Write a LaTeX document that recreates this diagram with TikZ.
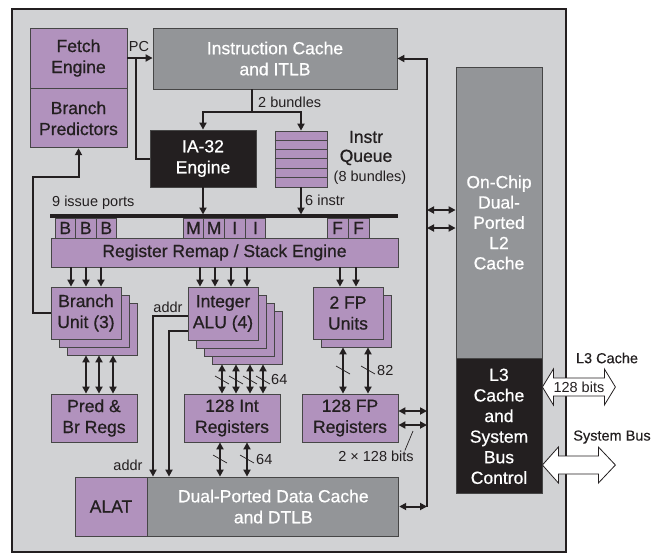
\documentclass[tikz,border=0pt]{standalone}
\usepackage{fontspec}
\setmainfont{Liberation Sans}
\newfontfamily\boxfont{Liberation Sans}[FakeBold=0.7]
\newfontfamily\busfont{Liberation Sans}[FakeBold=0.4]
\definecolor{chipgray}{RGB}{209,210,212}
\definecolor{unitpurple}{RGB}{177,146,189}
\definecolor{cachegray}{RGB}{147,149,152}
\definecolor{ctrlblack}{RGB}{35,31,32}
\definecolor{edgegray}{RGB}{70,70,70}
\usetikzlibrary{arrows.meta,positioning,calc}

\begin{document}
\begin{tikzpicture}[x=1pt,y=-1pt,
  fubox/.style={draw=edgegray,line width=0.8pt,fill=unitpurple,text=ctrlblack,align=center,
    inner sep=0pt,font=\boxfont\fontsize{17.5}{21}\selectfont},
  cachebox/.style={fubox,fill=cachegray,text=white},
  blackbox/.style={fubox,fill=ctrlblack,text=white},
  portbox/.style={fubox,minimum width=20.5pt,minimum height=20pt},
  lbl/.style={font=\fontsize{14.5}{17}\selectfont,text=ctrlblack,inner sep=0pt},
  buslbl/.style={lbl,font=\busfont\fontsize{14.5}{17}\selectfont},
  wire/.style={line width=2pt,draw=ctrlblack},
  arr/.style={wire,-{Triangle[length=7pt,width=7pt]}},
  darr/.style={wire,{Triangle[length=7pt,width=7pt]}-{Triangle[length=7pt,width=7pt]}},
  bitmark/.style={line width=0.7pt,draw=ctrlblack},
  fatarr/.style={draw=ctrlblack,line width=0.8pt,fill=white,line join=miter}
]
  \useasboundingbox (0,0) rectangle (660,558);
  % Chip outline
  \node[draw=ctrlblack,line width=2pt,fill=chipgray,minimum width=554pt,minimum height=543pt,inner sep=0pt] (chip) at (289,280.5) {};

  % Front end
  \node[fubox,minimum width=97pt,minimum height=60pt] (fetch) at (78.5,58) {Fetch\\Engine};
  \node[fubox,minimum width=97pt,minimum height=59pt,below=0pt of fetch] (bpred) {Branch\\Predictors};
  \node[cachebox,minimum width=244pt,minimum height=61pt] (icache) at (275,58.5) {Instruction Cache\\and ITLB};
  \node[blackbox,minimum width=106pt,minimum height=57pt] (ia32) at (203,158.5) {IA-32\\Engine};
  \node[fubox,minimum width=52pt,minimum height=56pt] (queue) at (301,159) {};
  \foreach \i in {1,...,5}
    \draw[edgegray,line width=0.8pt] ($(queue.north west)+(0,9.33*\i)$) -- ($(queue.north east)+(0,9.33*\i)$);
  \node[fubox,draw=none,fill=none,font=\boxfont\fontsize{17.5}{19}\selectfont] (qname) at (366,148) {Instr\\Queue};
  \node[lbl] (qsize) at (370,178) {(8 bundles)};

  \draw[arr] (fetch.east) -- (fetch.east -| icache.west);
  \draw[wire] (ia32.west) -| (136,0 |- fetch.east);
  \node[lbl] (pc) at (139,47) {PC};

  \coordinate (split) at (252,112);
  \draw[arr] (icache.south -| split) -- (split) -| (ia32.north);
  \draw[arr] (split) -| (queue.north);
  \node[lbl,anchor=west] (bundles) at (258,102) {2 bundles};

  % Issue ports
  \coordinate (busL) at (50,216);
  \coordinate (busR) at (398,216);
  \draw[ctrlblack,line width=4pt] (busL) -- (busR);
  \node[lbl,anchor=west] (ports) at (52,203) {9 issue ports};
  \draw[arr,shorten >=1.5pt] (ia32.south) -- (ia32.south |- busL);
  \draw[arr,shorten >=1.5pt] (queue.south) -- (queue.south |- busL);
  \node[lbl,anchor=west] (instr) at (305,200) {6 instr};

  \foreach \p [count=\i] in {B,B,B}
    \node[portbox] (pb\i) at (65.25+20.5*\i-20.5,228) {\p};
  \foreach \p [count=\i] in {M,M,I,I}
    \node[portbox,minimum width=20.7pt] (pm\i) at (193.4+20.7*\i-20.7,228) {\p};
  \foreach \p [count=\i] in {F,F}
    \node[portbox,minimum width=21pt] (pf\i) at (337.5+21*\i-21,228) {\p};
  \node[fubox,minimum width=347pt,minimum height=29pt] (remap) at (224.5,252.5) {Register Remap / Stack Engine};

  % Execution units
  \foreach \k in {2,1}
    \node[fubox,minimum width=70pt,minimum height=52pt] (brUb\k) at (86+8*\k,313+8*\k) {};
  \node[fubox,minimum width=70pt,minimum height=52pt] (brU) at (86,313) {Branch\\Unit (3)};
  \foreach \k in {3,2,1}
    \node[fubox,minimum width=70pt,minimum height=53pt] (aluB\k) at (223+8*\k,313.5+8*\k) {};
  \node[fubox,minimum width=70pt,minimum height=53pt] (alu) at (223,313.5) {Integer\\ALU (4)};
  \node[fubox,minimum width=70pt,minimum height=52pt] (fpUb1) at (356,321) {};
  \node[fubox,minimum width=70pt,minimum height=52pt] (fpU) at (348,313) {2 FP\\Units};

  \foreach \x in {71,86,101}
    \draw[arr] (\x,0 |- remap.south) -- (\x,0 |- brU.north);
  \foreach \x in {200,215,231,247}
    \draw[arr] (\x,0 |- remap.south) -- (\x,0 |- alu.north);
  \foreach \x in {340,356}
    \draw[arr] (\x,0 |- remap.south) -- (\x,0 |- fpU.north);
  \draw[arr] (brU.west) -| (33,177) -| (bpred.south);

  % Register files
  \node[fubox,minimum width=86pt,minimum height=48pt] (predR) at (94,418) {Pred \&\\Br Regs};
  \node[fubox,minimum width=96pt,minimum height=48pt] (intR) at (232,418) {128 Int\\Registers};
  \node[fubox,minimum width=96pt,minimum height=48pt] (fpR) at (350,418) {128 FP\\Registers};

  \foreach \x in {86,99,113}
    \draw[darr] (\x,0 |- brUb2.south) -- (\x,0 |- predR.north);
  \foreach \x in {222,236,250,263} {
    \draw[darr] (\x,0 |- aluB3.south) -- (\x,0 |- intR.north);
    \draw[bitmark] (\x-7,376) -- (\x+7,384);
  }
  \node[lbl,anchor=west] (intw) at (271,379) {64};
  \foreach \x in {343,368} {
    \draw[darr] (\x,0 |- fpUb1.south) -- (\x,0 |- fpR.north);
    \draw[bitmark] (\x-7,366) -- (\x+7,374);
  }
  \node[lbl,anchor=west] (fpw) at (377,370) {82};

  % Data cache
  \node[fubox,minimum width=72pt,minimum height=59pt] (alat) at (111,506.5) {ALAT};
  \node[cachebox,minimum width=251pt,minimum height=59pt,right=0pt of alat] (dcache) {Dual-Ported Data Cache\\and DTLB};
  \foreach \x in {220,247} {
    \draw[darr] (\x,0 |- intR.south) -- (\x,0 |- dcache.north);
    \draw[bitmark] (\x-7,455) -- (\x+7,463);
  }
  \node[lbl,anchor=west] (memw) at (256,459) {64};
  \draw[arr] (alu.west |- 0,316) -| (153,0 |- dcache.north);
  \draw[arr] (alu.west |- 0,331) -| (169,0 |- dcache.north);
  \node[lbl] (addrA) at (168,307) {addr};
  \node[lbl] (addrB) at (128,465) {addr};

  % L2 / L3
  \node[cachebox,minimum width=86pt,minimum height=291pt] (l2) at (499,212.5) {};
  \node[fubox,draw=none,fill=none,text=white,font=\boxfont\fontsize{17.5}{20.3}\selectfont] (l2txt) at (499,222.5)
    {On-Chip\\Dual-\\Ported\\L2\\Cache};
  \node[blackbox,minimum width=86pt,minimum height=135pt,below=0pt of l2,font=\boxfont\fontsize{17.5}{20.6}\selectfont] (l3)
    {L3\\Cache\\and\\System\\Bus\\Control};

  \coordinate (rbusT) at (427,58.5);
  \coordinate (rbusB) at (427,506.5);
  \draw[arr] (rbusB) -- (rbusT) -- (icache.east);
  \foreach \y in {210,228}
    \draw[darr] (rbusT |- 0,\y) -- (l2.west |- 0,\y);
  \foreach \y in {411,425}
    \draw[darr] (fpR.east |- 0,\y) -- (rbusT |- 0,\y);
  \draw[darr] (dcache.east) -- (rbusB);
  \node[lbl] (fpbits) at (376,456) {2 × 128 bits};
  \coordinate (fpbus) at (413,431);
  \draw[bitmark] ([xshift=-9pt]fpbits.north east) -- (fpbus);

  % Off-chip buses
  \coordinate (l3port) at (l3.east |- 0,387);
  \draw[fatarr] (l3port) -- ++(11,-18) -- ++(0,9) -- ++(51,0) -- ++(0,-9) -- ++(11,18)
    -- ++(-11,18) -- ++(0,-9) -- ++(-51,0) -- ++(0,9) -- cycle;
  \node[lbl] (l3bits) at ($(l3port)+(36.5,0)$) {128 bits};
  \node[buslbl] (l3name) at (607,358) {L3 Cache};
  \coordinate (sysport) at (l3.east |- 0,465);
  \draw[fatarr] (sysport) -- ++(16,-18) -- ++(0,9) -- ++(40,0) -- ++(0,-9) -- ++(17,18)
    -- ++(-17,18) -- ++(0,-9) -- ++(-40,0) -- ++(0,9) -- cycle;
  \node[buslbl] (sysname) at (612,437) {System Bus};
\end{tikzpicture}
\end{document}
